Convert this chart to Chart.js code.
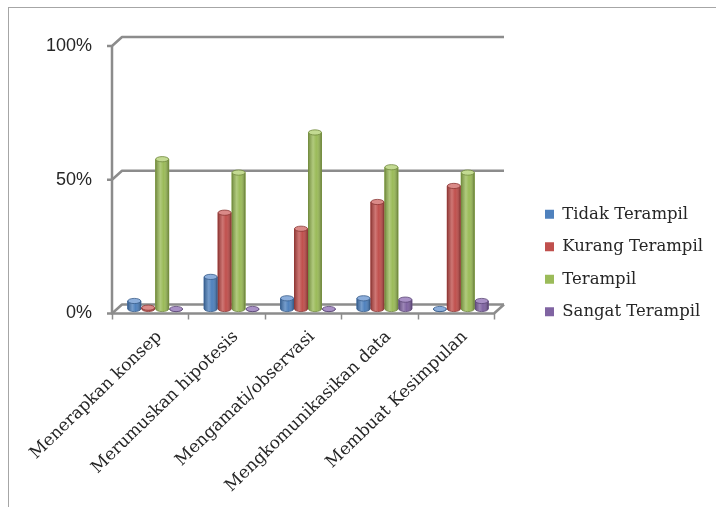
<!DOCTYPE html>
<html>
<head>
<meta charset="utf-8">
<script src="https://cdn.jsdelivr.net/npm/chart.js@4.4.1/dist/chart.umd.min.js"></script>
<style>
    html, body { margin: 0; padding: 0; background: #fff; }
    #wrap { position: relative; width: 716px; height: 507px; }
</style>
</head>
<body>
<div id="wrap"><canvas id="chart" width="716" height="507"></canvas></div>
<script>
// Chart data (percent).
const categories = ['Menerapkan konsep', 'Merumuskan hipotesis', 'Mengamati/observasi', 'Mengkomunikasikan data', 'Membuat Kesimpulan'];
const seriesNames = ['Tidak Terampil', 'Kurang Terampil', 'Terampil', 'Sangat Terampil'];
const tidakTerampil = [3, 12, 4, 4, 0];
const kurangTerampil = [0.5, 36, 30, 40, 46];
const terampil = [56, 51, 66, 53, 51];
const sangatTerampil = [0, 0, 0, 3.5, 3];
const yTicks = [0, 50, 100];

const colors = ['#4F81BD', '#C0504D', '#9BBB59', '#8064A2'];
const darkColors = ['#385D8A', '#8C3836', '#71893F', '#5C4776'];
const lightColors = ['#8CAEDB', '#DA8A88', '#C3DA92', '#A991C6'];

// half of the 3D depth: bars sit mid-way between the front axis and the back wall
const DX = 5, DY = 4.5;
const PLOT_RIGHT = 499;
const LEGEND_BOX_X = 545;
const LEGEND_TOP = 206;

// Outer border, back wall grid, floor edges and tick marks.
const frame = {
    id: 'frame',
    beforeDraw(chart) {
        const ctx = chart.ctx;
        ctx.save();
        ctx.strokeStyle = '#a6a6a6';
        ctx.lineWidth = 1;
        ctx.strokeRect(8.5, 7.5, 800, 600);
        ctx.restore();
    },
    beforeDatasetsDraw(chart) {
        const { ctx, chartArea: a, scales: { y } } = chart;
        const fl = a.left - DX, fr = a.right - DX;
        ctx.save();
        ctx.strokeStyle = '#8c8c8c';
        ctx.lineWidth = 2.5;
        ctx.lineJoin = 'round';
        yTicks.forEach(v => {
            const py = y.getPixelForValue(v);
            ctx.beginPath();
            ctx.moveTo(fl - 5, py + DY);
            ctx.lineTo(fl, py + DY);
            ctx.lineTo(a.left + DX, py - DY);
            ctx.lineTo(a.right + DX, py - DY);
            ctx.stroke();
        });
        const y0 = y.getPixelForValue(0);
        const y100 = y.getPixelForValue(100);
        ctx.beginPath();
        ctx.moveTo(fl, y100 + DY);
        ctx.lineTo(fl, y0 + DY);
        ctx.lineTo(fr, y0 + DY);
        ctx.lineTo(a.right + DX, y0 - DY);
        ctx.stroke();
        // category tick marks on the front edge
        const w = (a.right - a.left) / categories.length;
        ctx.lineWidth = 1.5;
        for (let i = 0; i <= categories.length; i++) {
            const px = Math.round(fl + i * w) + 0.5;
            ctx.beginPath();
            ctx.moveTo(px, y0 + DY);
            ctx.lineTo(px, y0 + DY + 6);
            ctx.stroke();
        }
        ctx.restore();
    },
    afterLayout(chart) {
        // pin the legend column where the reference has it
        const lg = chart.legend;
        const pad = lg.options.labels.padding;
        const sx = LEGEND_BOX_X - pad - lg.left;
        lg.left += sx; lg.right += sx;
        const h = lg.bottom - lg.top;
        lg.top = LEGEND_TOP - pad;
        lg.bottom = lg.top + h;
    }
};

// Cylinder look for each bar: shaded body, rounded base, elliptic top.
const cylinders = {
    id: 'cylinders',
    afterDatasetsDraw(chart) {
        const ctx = chart.ctx;
        chart.data.datasets.forEach((ds, di) => {
            const meta = chart.getDatasetMeta(di);
            meta.data.forEach(bar => {
                const { x: cx, y: top, base, width } = bar.getProps(['x', 'y', 'base', 'width'], true);
                const rx = width / 2 - 0.5, ry = 2.6;
                const l = cx - rx, r = cx + rx;
                const g = ctx.createLinearGradient(l, 0, r, 0);
                g.addColorStop(0, 'rgba(0,0,0,0.22)');
                g.addColorStop(0.35, 'rgba(255,255,255,0.22)');
                g.addColorStop(0.6, 'rgba(255,255,255,0)');
                g.addColorStop(1, 'rgba(0,0,0,0.3)');
                ctx.save();
                ctx.beginPath();
                ctx.moveTo(l, top);
                ctx.lineTo(l, base);
                ctx.ellipse(cx, base, rx, ry, 0, Math.PI, 0, true);
                ctx.lineTo(r, top);
                ctx.closePath();
                ctx.fillStyle = colors[di];
                ctx.fill();
                ctx.fillStyle = g;
                ctx.fill();
                ctx.strokeStyle = darkColors[di];
                ctx.lineWidth = 0.8;
                ctx.stroke();
                ctx.beginPath();
                ctx.ellipse(cx, top, rx, ry, 0, 0, Math.PI * 2);
                ctx.fillStyle = lightColors[di];
                ctx.fill();
                ctx.stroke();
                ctx.restore();
            });
        });
    }
};

const seriesValues = [tidakTerampil, kurangTerampil, terampil, sangatTerampil];

const chart = new Chart(document.getElementById('chart'), {
    type: 'bar',
    data: {
        labels: categories,
        datasets: seriesNames.map((name, i) => ({
            label: name,
            data: seriesValues[i],
            backgroundColor: colors[i],
            borderWidth: 0,
            categoryPercentage: 0.73,
            barPercentage: 1.0
        }))
    },
    options: {
        responsive: false,
        animation: false,
        events: [],
        layout: { padding: { left: 0, top: 41.5, right: 0, bottom: 0 } },
        plugins: {
            tooltip: { enabled: false },
            legend: {
                position: 'right',
                align: 'start',
                maxWidth: 230,
                labels: {
                    boxWidth: 9,
                    boxHeight: 9,
                    padding: 16,
                    color: '#262626',
                    font: { family: 'DejaVu Serif', size: 16.5 }
                }
            }
        },
        scales: {
            x: {
                grid: { display: false, drawTicks: false },
                border: { display: false },
                ticks: {
                    autoSkip: false,
                    minRotation: 44,
                    maxRotation: 44,
                    padding: 18,
                    labelOffset: 4,
                    color: '#262626',
                    font: { family: 'DejaVu Serif', size: 17 }
                },
                afterFit: s => {
                    s.height = 198;
                    s.paddingLeft = 0;
                    s.paddingRight = 0;
                }
            },
            y: {
                min: 0,
                max: 100,
                grid: { display: false, drawTicks: false },
                border: { display: false },
                ticks: {
                    stepSize: 50,
                    padding: 25,
                    labelOffset: DY,
                    color: '#262626',
                    font: { family: 'Liberation Sans', size: 18 },
                    callback: v => v + '%'
                },
                afterFit: s => { s.width = 117; }
            }
        }
    },
    plugins: [frame, cylinders]
});

// make the plot end where the reference plot ends
for (let k = 0; k < 3; k++) {
    chart.options.layout.padding.right += chart.chartArea.right - PLOT_RIGHT;
    chart.update();
}
</script>
</body>
</html>
